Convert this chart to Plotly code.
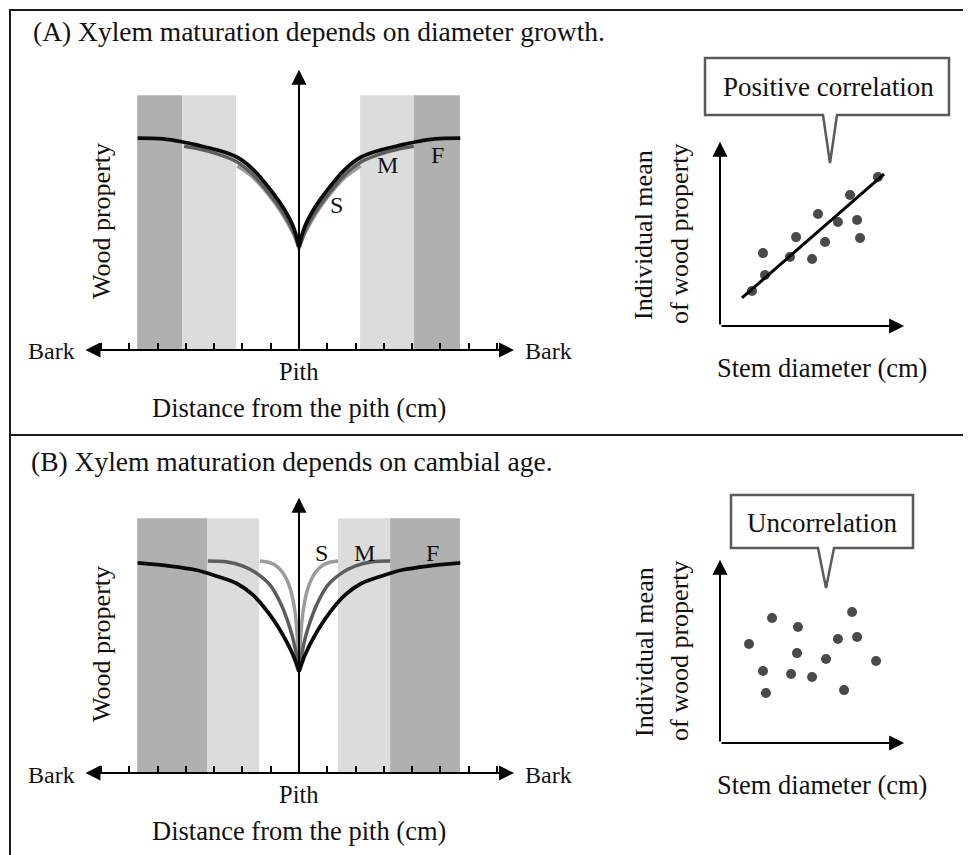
import plotly.graph_objects as go

W, H = 971, 855
OFF = 8  # page body margin compensation

# ---------------- data ----------------
# Panel A radial profiles: distance from pith (cm units) and wood property
A_F_dist = [0, 0.2, 0.55, 1.0, 1.6, 2.2, 2.9, 3.6, 4.1, 4.8, 5.7]
A_F_val = [3.65, 4.35, 5.02, 5.65, 6.36, 6.82, 7.07, 7.24, 7.35, 7.46, 7.49]
A_M_dist = [0, 0.22, 0.6, 1.05, 1.65, 2.25, 2.95, 3.6, 4.06]
A_M_val = [3.6, 4.22, 4.9, 5.52, 6.22, 6.68, 6.95, 7.12, 7.2]
A_S_dist = [0, 0.22, 0.6, 1.05, 1.65, 2.18]
A_S_val = [3.6, 4.15, 4.82, 5.45, 6.12, 6.5]

# Panel B radial profiles
B_F_dist = [0, 0.21, 0.57, 1.02, 1.63, 2.23, 2.93, 3.64, 4.56, 5.7]
B_F_val = [3.58, 4.17, 4.88, 5.58, 6.29, 6.71, 6.96, 7.17, 7.31, 7.42]
B_M_dist = [0, 0.11, 0.32, 0.67, 1.02, 1.52, 1.98, 2.58, 3.22]
B_M_val = [3.58, 4.28, 5.12, 6.04, 6.64, 7.07, 7.31, 7.46, 7.49]
B_S_dist = [0, 0.04, 0.14, 0.32, 0.57, 0.85, 1.17, 1.38]
B_S_val = [3.58, 4.52, 5.69, 6.54, 7.07, 7.35, 7.46, 7.49]

# Shaded zones (distance ranges) : (x0, x1, kind)
A_bands = [(-5.72, -4.13, "dark"), (-4.13, -2.23, "light"), (2.16, 4.06, "light"), (4.06, 5.69, "dark")]
B_bands = [(-5.72, -3.25, "dark"), (-3.25, -1.41, "light"), (1.38, 3.22, "light"), (3.22, 5.69, "dark")]
band_top = 9.0

# Scatter panels: stem diameter vs individual mean
A_diam = [1.72, 2.42, 2.31, 3.76, 4.09, 4.95, 5.27, 5.65, 6.34, 6.99, 7.37, 7.53, 8.49]
A_mean = [1.88, 2.74, 3.92, 3.71, 4.78, 3.60, 6.02, 4.52, 5.59, 7.04, 5.70, 4.73, 8.01]
A_fit_x = [1.18, 8.82]
A_fit_y = [1.51, 8.17]

B_diam = [1.56, 2.80, 4.19, 2.31, 2.47, 4.14, 3.82, 4.95, 5.70, 6.34, 7.10, 7.37, 6.67, 8.39]
B_mean = [5.35, 6.76, 6.27, 3.89, 2.70, 4.86, 3.73, 3.57, 4.54, 5.62, 7.08, 5.73, 2.86, 4.43]

# ---------------- helpers ----------------
def fx(p):
    return (p - OFF) / W

def fy(p):
    return 1 - (p - OFF) / H

FONT = "Liberation Serif, Times New Roman, serif"
C_F, C_M, C_S = "#0a0a0a", "#5c5c5c", "#9b9b9b"
BAND_COL = {"dark": "#b0b0b0", "light": "#dcdcdc"}

fig = go.Figure()


def add_profile(dist, val, color, xa, ya, width=3.5):
    fig.add_trace(go.Scatter(x=dist, y=val, mode="lines", line=dict(color=color, width=width, shape="spline", smoothing=0.9),
                             xaxis=xa, yaxis=ya, showlegend=False, hoverinfo="skip"))
    fig.add_trace(go.Scatter(x=[-d for d in dist], y=val, mode="lines", line=dict(color=color, width=width, shape="spline", smoothing=0.9),
                             xaxis=xa, yaxis=ya, showlegend=False, hoverinfo="skip"))


add_profile(A_S_dist, A_S_val, C_S, "x", "y")
add_profile(A_M_dist, A_M_val, C_M, "x", "y")
add_profile(A_F_dist, A_F_val, C_F, "x", "y", 3.8)

add_profile(B_S_dist, B_S_val, C_S, "x3", "y3")
add_profile(B_M_dist, B_M_val, C_M, "x3", "y3")
add_profile(B_F_dist, B_F_val, C_F, "x3", "y3", 3.8)

fig.add_trace(go.Scatter(x=A_diam, y=A_mean, mode="markers", marker=dict(size=10, color="#4a4a4a"),
                         xaxis="x2", yaxis="y2", showlegend=False, hoverinfo="skip"))
fig.add_trace(go.Scatter(x=A_fit_x, y=A_fit_y, mode="lines", line=dict(color="#000", width=3),
                         xaxis="x2", yaxis="y2", showlegend=False, hoverinfo="skip"))
fig.add_trace(go.Scatter(x=B_diam, y=B_mean, mode="markers", marker=dict(size=10, color="#4a4a4a"),
                         xaxis="x4", yaxis="y4", showlegend=False, hoverinfo="skip"))

shapes = []
for (x0, x1, k) in A_bands:
    shapes.append(dict(type="rect", xref="x", yref="y", x0=x0, x1=x1, y0=0, y1=band_top,
                       fillcolor=BAND_COL[k], line=dict(width=0), layer="below"))
for (x0, x1, k) in B_bands:
    shapes.append(dict(type="rect", xref="x3", yref="y3", x0=x0, x1=x1, y0=0, y1=band_top,
                       fillcolor=BAND_COL[k], line=dict(width=0), layer="below"))

# frame
shapes.append(dict(type="rect", xref="paper", yref="paper", x0=fx(10), x1=fx(969), y0=fy(858), y1=fy(10),
                   line=dict(color="#1a1a1a", width=2), fillcolor="rgba(0,0,0,0)"))
shapes.append(dict(type="line", xref="paper", yref="paper", x0=fx(10), x1=fx(969), y0=fy(435), y1=fy(435),
                   line=dict(color="#1a1a1a", width=2)))


def callout(x0, y0, x1, y1, b0, b1, tipx, tipy):
    pts = [(x0, y0), (x1, y0), (x1, y1), (b1, y1), (tipx, tipy), (b0, y1), (x0, y1)]
    path = "M " + " L ".join(f"{fx(a):.5f},{fy(b):.5f}" for a, b in pts) + " Z"
    return dict(type="path", xref="paper", yref="paper", path=path,
                line=dict(color="#5a5a5a", width=2.5), fillcolor="white")


shapes.append(callout(705, 58, 949, 115, 823, 837, 830, 163))
shapes.append(callout(731, 495, 913, 548, 818, 834, 826, 588))

annotations = []


def arrow(xr, yr, x0, y0, x1, y1, both=False):
    d = dict(x=x1, y=y1, ax=x0, ay=y0, xref=xr, yref=yr, axref=xr, ayref=yr, text="",
             showarrow=True, arrowhead=2, arrowsize=1.5, arrowwidth=2, arrowcolor="#000",
             standoff=0, startstandoff=0)
    if both:
        d.update(arrowside="end+start", startarrowhead=2, startarrowsize=1.5)
    annotations.append(d)


# profile axes
arrow("x", "y", -7.6, 0, 7.6, 0, both=True)
arrow("x", "y", 0, 0, 0, 9.9)
arrow("x3", "y3", -7.6, 0, 7.6, 0, both=True)
arrow("x3", "y3", 0, 0, 0, 9.72)
# scatter axes
arrow("x2", "y2", 0, 0, 9.9, 0)
arrow("x2", "y2", 0, 0, 0, 9.9)
arrow("x4", "y4", 0, 0, 9.9, 0)
arrow("x4", "y4", 0, 0, 0, 9.9)


def text(t, px, py, size=23, xanchor="center", angle=0, color="#111"):
    annotations.append(dict(text=t, x=fx(px), y=fy(py), xref="paper", yref="paper", showarrow=False,
                            xanchor=xanchor, yanchor="middle", textangle=angle,
                            font=dict(family=FONT, size=size, color=color)))


def dtext(t, x, y, xr, yr, size=24):
    annotations.append(dict(text=t, x=x, y=y, xref=xr, yref=yr, showarrow=False,
                            xanchor="center", yanchor="middle",
                            font=dict(family=FONT, size=size, color="#111")))


# Panel A texts
text("(A) Xylem maturation depends on diameter growth.", 31, 31, 27.5, xanchor="left")
text("Wood property", 101, 221, 26, angle=-90)
text("Bark", 51, 351, 24)
text("Bark", 548, 351, 24)
text("Pith", 299, 371, 24.5)
text("Distance from the pith (cm)", 299, 408, 26.5)
text("Positive correlation", 828, 87, 27)
text("Individual mean", 644, 235, 26, angle=-90)
text("of wood property", 679, 234, 26, angle=-90)
text("Stem diameter (cm)", 822, 368, 26.5)
dtext("S", 1.34, 5.12, "x", "y")
dtext("M", 3.11, 6.54, "x", "y")
dtext("F", 4.91, 6.89, "x", "y")

# Panel B texts
text("(B) Xylem maturation depends on cambial age.", 29, 461, 27.5, xanchor="left")
text("Wood property", 101, 644, 26, angle=-90)
text("Bark", 51, 775, 24)
text("Bark", 548, 775, 24)
text("Pith", 299, 794, 24.5)
text("Distance from the pith (cm)", 299, 831, 26.5)
text("Uncorrelation", 822, 523, 27)
text("Individual mean", 644, 652, 26, angle=-90)
text("of wood property", 679, 651, 26, angle=-90)
text("Stem diameter (cm)", 822, 785, 26.5)
dtext("S", 0.81, 7.77, "x3", "y3")
dtext("M", 2.33, 7.77, "x3", "y3")
dtext("F", 4.73, 7.77, "x3", "y3")

prof_x = dict(showline=False, showgrid=False, zeroline=False, showticklabels=False,
              ticks="inside", ticklen=7, tickwidth=2, tickcolor="#000", tick0=0, dtick=1,
              range=[-7.74, 7.74], fixedrange=True)
hidden = dict(visible=False, showgrid=False, zeroline=False, fixedrange=True)

fig.update_layout(
    width=W, height=H, autosize=False,
    margin=dict(l=0, r=0, t=0, b=0),
    paper_bgcolor="white", plot_bgcolor="rgba(0,0,0,0)",
    xaxis=dict(prof_x, domain=[fx(80), fx(518)], anchor="y"),
    yaxis=dict(hidden, domain=[fy(350), fy(67)], range=[0, 10], anchor="x"),
    xaxis2=dict(hidden, domain=[fx(720), fx(906)], range=[0, 10], anchor="y2"),
    yaxis2=dict(hidden, domain=[fy(326), fy(140)], range=[0, 10], anchor="x2"),
    xaxis3=dict(prof_x, domain=[fx(80), fx(518)], anchor="y3"),
    yaxis3=dict(hidden, domain=[fy(773), fy(495)], range=[0, 9.82], anchor="x3"),
    xaxis4=dict(hidden, domain=[fx(720), fx(906)], range=[0, 10], anchor="y4"),
    yaxis4=dict(hidden, domain=[fy(743), fy(558)], range=[0, 10], anchor="x4"),
    shapes=shapes,
    annotations=annotations,
    showlegend=False,
)

fig.write_html("out.html")
